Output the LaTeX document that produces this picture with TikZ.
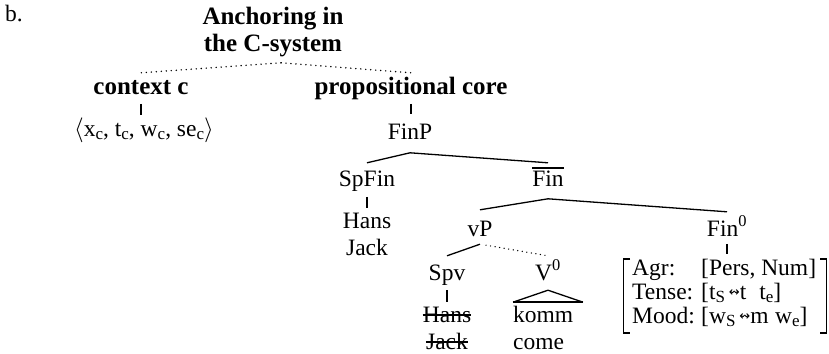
\documentclass[tikz,border=0pt]{standalone}
\usepackage{amssymb}
\usepackage{fontspec}
\setmainfont{Liberation Serif}
\newfontfamily\djv{DejaVu Sans}
\usetikzlibrary{calc}
\newcommand{\sqarr}{\raisebox{3pt}{\djv\fontsize{13}{13}\selectfont ↭}}
\newcommand{\sbs}[1]{\raisebox{-3pt}{\fontsize{17}{17}\selectfont #1}}
\tikzset{
  lbl/.style={inner sep=0pt, anchor=base, font=\fontsize{23.5}{27}\selectfont, text height=16pt, text depth=4.6pt},
  hd/.style={lbl, font=\fontsize{25}{29}\selectfont\bfseries},
  branch/.style={line width=1.3pt},
  tick/.style={line width=2.2pt},
  dots/.style={line width=1.6pt, line cap=round, dash pattern=on 0pt off 5pt},
  sdots/.style={line width=1.4pt, line cap=round, dash pattern=on 0pt off 4.6pt},
  strike/.style={line width=1.1pt},
  brack/.style={line width=1.3pt},
}
\begin{document}
\begin{tikzpicture}[x=1pt,y=-1pt]
\useasboundingbox (0,0) rectangle (829,353);
% labels
\node[lbl, anchor=base west] (b) at (5,22) {b.};
\node[hd] (anc1) at (273,25) {Anchoring in};
\node[hd] (anc2) at (273,52) {the C-system};
\node[hd] (ctx) at (141,94) {context c};
\node[hd] (prop) at (411,94) {propositional core};
\node[lbl] (tup) at (144,136) {$\langle$x\sbs{c}, t\sbs{c}, w\sbs{c}, se\sbs{c}$\rangle$};
\node[lbl] (finp) at (410,139) {FinP};
\node[lbl] (spfin) at (367,186) {SpFin};
\node[lbl] (finbar) at (548,186) {Fin};
\node[lbl] (hans1) at (367,228) {Hans};
\node[lbl] (jack1) at (367,255) {Jack};
\node[lbl] (vp) at (480,236) {vP};
\node[lbl] (fin0) at (727,236) {Fin\textsuperscript{0}};
\node[lbl] (spv) at (447,280) {Spv};
\node[lbl] (v0) at (548,280) {V\textsuperscript{0}};
\node[lbl] (hans2) at (447,322) {Hans};
\node[lbl] (jack2) at (447,349) {Jack};
\node[lbl, anchor=base west] (komm) at (513,322) {komm};
\node[lbl, anchor=base west] (come) at (513,349) {come};
% feature matrix
\node[lbl, anchor=base west] (agr) at (632,275) {Agr:};
\node[lbl, anchor=base west] (tense) at (632,299) {Tense:};
\node[lbl, anchor=base west] (mood) at (632,323) {Mood:};
\node[lbl, anchor=base west] (agrv) at (701,275) {[Pers, Num]};
\node[lbl, anchor=base west] (tensev) at (701,299) {[t\sbs{S}\,\sqarr t\;\;t\sbs{e}]};
\node[lbl, anchor=base west] (moodv) at (701,323) {[w\sbs{S}\,\sqarr m\;w\sbs{e}]};
\draw[brack] (630,259) -- (623.5,259) -- (623.5,333) -- (630,333);
\draw[brack] (820,259) -- (826.5,259) -- (826.5,333) -- (820,333);
% dotted top
\draw[dots] ([xshift=8pt,yshift=-6pt]anc2.south) -- ([yshift=5pt]ctx.north);
\draw[dots] ([xshift=8pt,yshift=-6pt]anc2.south) -- ([yshift=5pt]prop.north);
% ticks
\draw[tick, shorten <=5pt, shorten >=5pt] (ctx.south) -- (ctx.south |- tup.north);
\draw[tick, shorten <=5pt, shorten >=9pt] (prop.south) -- (prop.south |- finp.north);
\draw[tick, shorten <=6pt, shorten >=4pt] (spfin.south) -- (spfin.south |- hans1.north);
\draw[tick, shorten <=5.4pt, shorten >=4pt] (spv.south) -- (spv.south |- hans2.north);
\draw[tick] ([yshift=-3pt]fin0.south) -- ++(0,10);
% branches
\draw[branch] ([yshift=-9pt]finp.south) -- ([yshift=7pt]spfin.north);
\draw[branch] ([yshift=-9pt]finp.south) -- ([yshift=7pt]finbar.north);
\draw[line width=2.5pt] ([yshift=2pt]finbar.north west) -- ([yshift=2pt]finbar.north east);
\draw[branch] ([yshift=-8pt]finbar.south) -- ([yshift=10pt]vp.north);
\draw[branch] ([yshift=-8pt]finbar.south) -- ([yshift=8pt]fin0.north);
\draw[branch] ([yshift=-3.4pt]vp.south) -- ([yshift=8pt]spv.north);
\draw[sdots] ([xshift=6pt,yshift=-4.4pt]vp.south) -- ([yshift=8pt]v0.north);
% triangle
\coordinate (apex) at ([yshift=-5.4pt]v0.south);
\draw[branch] ($(apex)+(-35,12)$) -- (apex) -- ($(apex)+(35,12)$);
\draw[line width=2.2pt] ($(apex)+(-35,12)$) -- ($(apex)+(35,12)$);
% strikethrough
\draw[strike] ([yshift=7pt]hans2.base west) -- ([yshift=7pt]hans2.base east);
\draw[strike] ([yshift=7pt]jack2.base west) -- ([yshift=7pt]jack2.base east);
\end{tikzpicture}
\end{document}
